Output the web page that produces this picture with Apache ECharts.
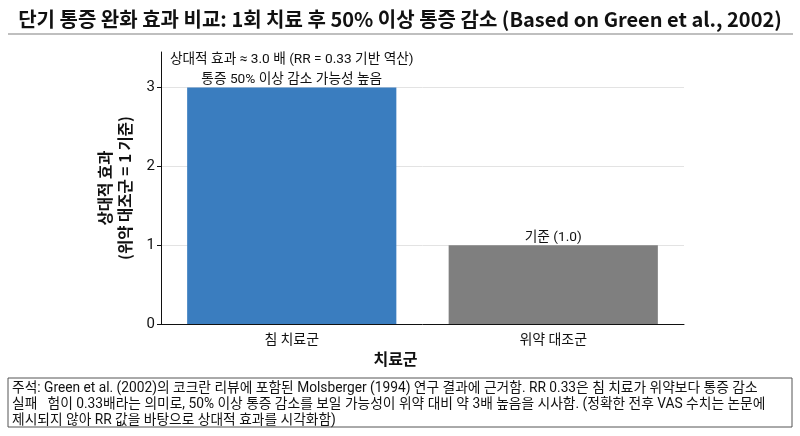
<!DOCTYPE html>
<html>
<head>
<meta charset="utf-8">
<script src="https://cdn.jsdelivr.net/npm/echarts@6/dist/echarts.min.js"></script>
<style>
html,body{margin:0;padding:0;background:#fff;}
#chart{width:800px;height:436px;}
</style>
</head>
<body>
<div id="chart"></div>
<script>
const titleText = '단기 통증 완화 효과 비교: 1회 치료 후 50% 이상 통증 감소 (Based on Green et al., 2002)';
const categories = ['침 치료군', '위약 대조군'];
const values = [3.0, 1.0];
const barColors = ['#3a7dbf', '#7f7f7f'];
const barLabels = ['상대적 효과 ≈ 3.0 배 (RR = 0.33 기반 역산)\n통증 50% 이상 감소 가능성 높음', '기준 (1.0)'];
const yTicks = [0, 1, 2, 3];
const yMax = 3.45;
const xAxisName = '치료군';
const yAxisName = '상대적 효과\n(위약 대조군 = 1 기준)';
const footnoteLines = [
  '주석: Green et al. (2002)의 코크란 리뷰에 포함된 Molsberger (1994) 연구 결과에 근거함. RR 0.33은 침 치료가 위약보다 통증 감소',
  '실패   험이 0.33배라는 의미로, 50% 이상 통증 감소를 보일 가능성이 위약 대비 약 3배 높음을 시사함. (정확한 전후 VAS 수치는 논문에',
  '제시되지 않아 RR 값을 바탕으로 상대적 효과를 시각화함)'
];

const FONT = "Roboto, 'Noto Sans CJK KR', sans-serif";
const CJK = "'Noto Sans CJK KR', sans-serif";

const chart = echarts.init(document.getElementById('chart'), null, {renderer: 'canvas'});

const option = {
  backgroundColor: '#fff',
  animation: false,
  title: {
    text: titleText,
    left: 'center',
    top: 4,
    textStyle: {fontFamily: CJK, fontSize: 20, fontWeight: 'bold', color: '#111'}
  },
  grid: {left: 161, right: 116, top: 52, bottom: 112},
  xAxis: {
    type: 'category',
    data: categories,
    name: xAxisName,
    nameLocation: 'middle',
    nameGap: 26,
    nameTextStyle: {fontFamily: CJK, fontSize: 16, fontWeight: 'bold', color: '#111', padding: [0, 54, 0, 0]},
    axisLine: {lineStyle: {color: '#111', width: 1}},
    axisTick: {alignWithLabel: true, length: 4, lineStyle: {color: '#111'}},
    axisLabel: {fontFamily: CJK, fontSize: 14, color: '#111', margin: 8}
  },
  yAxis: {
    type: 'value',
    min: 0,
    max: yMax,
    interval: 1,
    name: yAxisName,
    nameLocation: 'middle',
    nameRotate: 90,
    nameGap: 26,
    nameTextStyle: {fontFamily: CJK, fontSize: 15.5, fontWeight: 'bold', color: '#111', lineHeight: 20, align: 'center'},
    axisLine: {show: true, lineStyle: {color: '#111', width: 1}},
    axisTick: {show: true, length: 4, lineStyle: {color: '#111'}, customValues: yTicks},
    axisLabel: {fontFamily: FONT, fontSize: 15, color: '#111', margin: 6, customValues: yTicks},
    splitLine: {show: true, showMinLine: false, lineStyle: {color: '#e3e3e3', width: 1}}
  },
  series: [{
    type: 'bar',
    barWidth: '80%',
    data: values.map((v, i) => ({
      value: v,
      itemStyle: {color: barColors[i]},
      label: {
        show: true,
        position: 'top',
        distance: -2,
        formatter: barLabels[i],
        fontFamily: FONT,
        fontSize: 13.7,
        lineHeight: 20,
        color: '#111',
        align: 'center'
      }
    }))
  }],
  graphic: [
    {type: 'line', shape: {x1: 8, y1: 34, x2: 793, y2: 34}, style: {stroke: '#aaaaaa', lineWidth: 1.5}},
    {type: 'rect', shape: {x: 8, y: 378, width: 784, height: 49}, style: {fill: '#fff', stroke: '#555', lineWidth: 1}},
    {type: 'text', left: 12, top: 381, style: {text: footnoteLines.join('\n'), fontFamily: FONT, fontSize: 13.75, lineHeight: 15.8, fill: '#111'}}
  ]
};
chart.setOption(option);
</script>
</body>
</html>
